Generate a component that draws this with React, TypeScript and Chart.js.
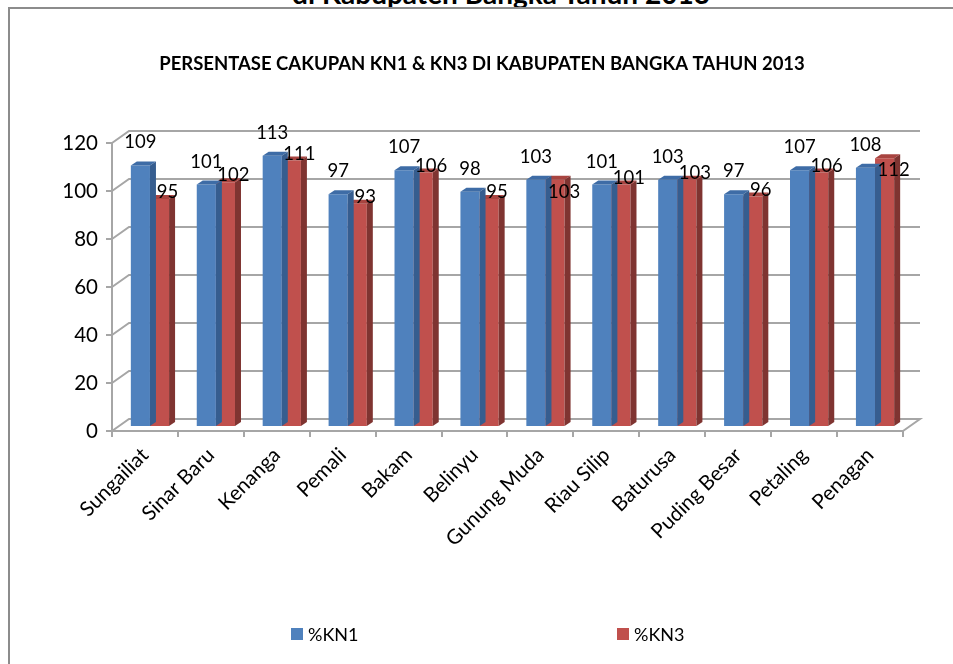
import React, { useEffect, useRef } from "react";
import { Chart, registerables } from "chart.js";

Chart.register(...registerables);

// ---- data ----
const categories = [
  "Sungailiat",
  "Sinar Baru",
  "Kenanga",
  "Pemali",
  "Bakam",
  "Belinyu",
  "Gunung Muda",
  "Riau Silip",
  "Baturusa",
  "Puding Besar",
  "Petaling",
  "Penagan",
];
const kn1Values = [109, 101, 113, 97, 107, 98, 103, 101, 103, 97, 107, 108];
const kn3Values = [95, 102, 111, 93, 106, 95, 103, 101, 103, 96, 106, 112];
const yTickValues = [0, 20, 40, 60, 80, 100, 120];
const seriesNames = ["%KN1", "%KN3"];
const chartTitle = "PERSENTASE CAKUPAN KN1 & KN3 DI KABUPATEN BANGKA TAHUN 2013";
const pageHeading = "di Kabupaten Bangka Tahun 2013";

// ---- style ----
const FONT = "Lato, 'Open Sans', 'DejaVu Sans', sans-serif";
const GRID = "#a6a6a6";
const WALL_DX = 17;
const WALL_DY = -12;
const BAR_DX = 5;
const BAR_DY = -4;
const FACE_DX = 6;
const FACE_DY = -4;
const kn3LabelInside = ["Gunung Muda", "Penagan"];

const threeDPlugin = {
  id: "threeD",
  beforeDatasetsDraw(chart: any) {
    const { ctx, chartArea, scales } = chart;
    const { left, right } = chartArea;
    const y = scales.y;
    ctx.save();
    ctx.strokeStyle = GRID;
    ctx.lineWidth = 2;
    yTickValues.forEach((v) => {
      const py = y.getPixelForValue(v);
      ctx.beginPath();
      ctx.moveTo(left, py);
      ctx.lineTo(left + WALL_DX, py + WALL_DY);
      ctx.lineTo(right + WALL_DX, py + WALL_DY);
      if (v === 0) ctx.lineTo(right, py);
      ctx.stroke();
    });
    ctx.restore();
    ctx.save();
    ctx.translate(BAR_DX, BAR_DY);
  },
  afterDatasetDraw(chart: any, args: any) {
    const ctx = chart.ctx;
    const ds: any = chart.data.datasets[args.index];
    args.meta.data.forEach((bar: any) => {
      const { x, y, base, width } = bar.getProps(["x", "y", "base", "width"], true);
      const x0 = x - width / 2;
      const x1 = x + width / 2;
      ctx.fillStyle = ds.topColor;
      ctx.beginPath();
      ctx.moveTo(x0, y);
      ctx.lineTo(x0 + FACE_DX, y + FACE_DY);
      ctx.lineTo(x1 + FACE_DX, y + FACE_DY);
      ctx.lineTo(x1, y);
      ctx.closePath();
      ctx.fill();
      ctx.fillStyle = ds.sideColor;
      ctx.beginPath();
      ctx.moveTo(x1, y);
      ctx.lineTo(x1 + FACE_DX, y + FACE_DY);
      ctx.lineTo(x1 + FACE_DX, base + FACE_DY);
      ctx.lineTo(x1, base);
      ctx.closePath();
      ctx.fill();
    });
  },
  afterDatasetsDraw(chart: any) {
    const ctx = chart.ctx;
    ctx.restore();
    ctx.save();
    ctx.font = `18.5px ${FONT}`;
    ctx.fillStyle = "#000";
    ctx.textAlign = "center";
    ctx.textBaseline = "middle";
    chart.data.datasets.forEach((ds: any, di: number) => {
      const meta = chart.getDatasetMeta(di);
      meta.data.forEach((bar: any, i: number) => {
        const { x, y } = bar.getProps(["x", "y"], true);
        let lx = x + BAR_DX;
        let ly = y + BAR_DY;
        if (di === 0) {
          ly -= 23;
        } else if (kn3LabelInside.includes(chart.data.labels[i])) {
          lx += 9;
          ly += 12;
        } else {
          lx += 8;
          ly -= 7;
        }
        ctx.fillText(String(ds.data[i]), lx, ly);
      });
    });
    ctx.restore();
  },
  afterDraw(chart: any) {
    const ctx = chart.ctx;
    ctx.save();
    // title
    ctx.font = `bold 18.5px ${FONT}`;
    ctx.fillStyle = "#000";
    ctx.textAlign = "center";
    ctx.textBaseline = "middle";
    ctx.fillText(chartTitle, 482, 64);
    // legend
    const legendX = [291, 617];
    ctx.font = `18px ${FONT}`;
    ctx.textAlign = "left";
    chart.data.datasets.forEach((ds: any, di: number) => {
      ctx.fillStyle = ds.backgroundColor;
      ctx.fillRect(legendX[di], 628, 12, 12);
      ctx.fillStyle = "#000";
      ctx.fillText(ds.label, legendX[di] + 17, 635);
    });
    ctx.restore();
  },
};

export default function App() {
  const canvasRef = useRef<HTMLCanvasElement | null>(null);

  useEffect(() => {
    if (!canvasRef.current) return;
    const chart = new Chart(canvasRef.current, {
      type: "bar",
      data: {
        labels: categories,
        datasets: [
          {
            label: seriesNames[0],
            data: kn1Values,
            backgroundColor: "#4f81bd",
            topColor: "#3e6ca6",
            sideColor: "#365d8f",
            borderWidth: 0,
            categoryPercentage: 0.58,
            barPercentage: 1,
            clip: false,
          } as any,
          {
            label: seriesNames[1],
            data: kn3Values,
            backgroundColor: "#c0504d",
            topColor: "#a84440",
            sideColor: "#7f3431",
            borderWidth: 0,
            categoryPercentage: 0.58,
            barPercentage: 1,
            clip: false,
          } as any,
        ],
      },
      options: {
        animation: false,
        responsive: false,
        maintainAspectRatio: false,
        layout: { padding: { top: 143, right: 50, left: 0, bottom: 0 } },
        plugins: {
          legend: { display: false },
          title: { display: false },
          tooltip: { enabled: false },
        },
        scales: {
          x: {
            ticks: {
              font: { family: FONT, size: 20.5 },
              color: "#000",
              maxRotation: 45,
              minRotation: 45,
              padding: 6,
              autoSkip: false,
            },
            grid: {
              drawOnChartArea: false,
              drawTicks: true,
              tickLength: 6,
              color: GRID,
              lineWidth: 2,
              offset: true,
            },
            border: { display: true, color: GRID, width: 2 },
            afterFit(s: any) {
              s.height = 664 - 431;
            },
          },
          y: {
            min: 0,
            max: 120,
            ticks: {
              font: { family: FONT, size: 20.5 },
              color: "#000",
              padding: 8,
            },
            afterBuildTicks(s: any) {
              s.ticks = yTickValues.map((v) => ({ value: v }));
            },
            grid: {
              drawOnChartArea: false,
              drawTicks: true,
              tickLength: 6,
              color: GRID,
              lineWidth: 2,
            },
            border: { display: true, color: GRID, width: 2 },
            afterFit(s: any) {
              s.width = 112;
            },
          },
        },
      } as any,
      plugins: [threeDPlugin],
    });
    return () => chart.destroy();
  }, []);

  return (
    <div
      style={{
        position: "absolute",
        left: 0,
        top: 0,
        width: 953,
        height: 664,
        overflow: "hidden",
        background: "#fff",
      }}
    >
      <div
        style={{
          position: "absolute",
          left: 201,
          top: -21,
          width: 600,
          textAlign: "center",
          whiteSpace: "nowrap",
          font: `bold 28px ${FONT}`,
          lineHeight: "28px",
          color: "#000",
        }}
      >
        {pageHeading}
      </div>
      <div
        style={{
          position: "absolute",
          left: 8,
          top: 7,
          width: 1000,
          height: 1000,
          borderLeft: "2px solid #8c8c8c",
          borderTop: "2px solid #8c8c8c",
        }}
      />
      <canvas
        ref={canvasRef}
        width={953}
        height={664}
        style={{ position: "absolute", left: 0, top: 0, width: 953, height: 664 }}
      />
    </div>
  );
}
